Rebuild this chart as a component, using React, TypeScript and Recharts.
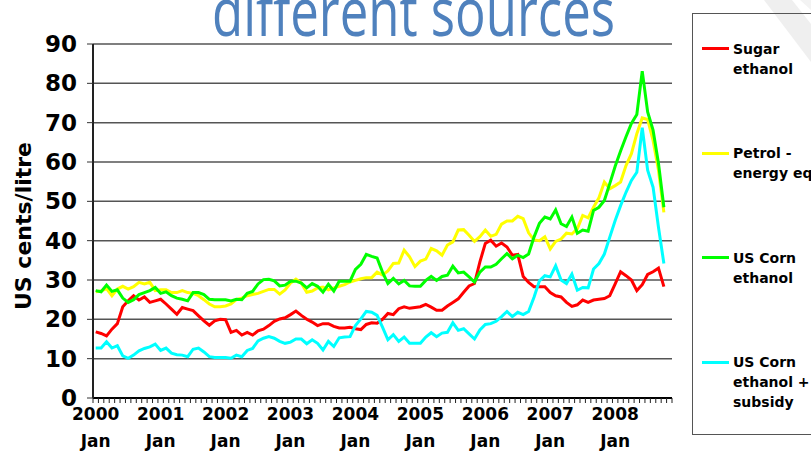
import React from 'react';
import { LineChart, Line, XAxis, YAxis, CartesianGrid, Legend } from 'recharts';

const chartTitle = 'different sources';
const yAxisTitle = 'US cents/litre';
const yearLabels = ['2000', '2001', '2002', '2003', '2004', '2005', '2006', '2007', '2008'];
const monthLabel = 'Jan';
const monthCount = 107; // Jan 2000 .. Nov 2008
const yTicks = [0, 10, 20, 30, 40, 50, 60, 70, 80, 90];

const sugarEthanol = [16.8, 16.4, 15.8, 17.5, 18.9, 23.2, 24.7, 26, 24.9, 25.7, 24.3, 24.7, 25.1, 23.9, 22.6, 21.3, 23, 22.6, 22.2, 20.9, 19.6, 18.5, 19.6, 20, 19.9, 16.7, 17.2, 16, 16.7, 16, 17.1, 17.5, 18.4, 19.5, 20.1, 20.4, 21.2, 22.1, 21, 20, 19.3, 18.4, 18.9, 18.9, 18.2, 17.8, 17.8, 18, 17.6, 17.4, 18.7, 19.1, 19, 20, 21.5, 21.2, 22.7, 23.2, 22.8, 23, 23.2, 23.8, 23.1, 22.3, 22.3, 23.4, 24.3, 25.2, 26.9, 28.5, 29.1, 34.6, 39.3, 40.1, 38.6, 39.4, 38.4, 36.3, 36.5, 30.9, 29.4, 28.3, 28.3, 28.3, 26.8, 26, 25.7, 24.3, 23.3, 23.7, 24.9, 24.3, 24.9, 25.1, 25.3, 26, 29, 32.1, 31.1, 30, 27.3, 28.8, 31.4, 32.1, 33, 28.3];
const petrolEquivalent = [27, 27.2, 27.8, 26, 27.7, 28.4, 27.7, 28.3, 29.4, 29, 29.4, 27.3, 27.5, 27.5, 26.8, 26.8, 27.3, 26.8, 26.6, 26, 25, 23.9, 23.2, 23.2, 23.4, 23.9, 25, 25.4, 26, 26.3, 26.6, 27.1, 27.6, 27.6, 26.4, 27.5, 29.2, 30.2, 29.2, 26.9, 27.2, 28, 28.2, 27.5, 28, 28.4, 28.8, 29.5, 29.9, 30.3, 30.6, 30.6, 32, 31.3, 32.3, 34.2, 34.3, 37.6, 35.9, 33.4, 34.8, 35.3, 38, 37.4, 36.3, 38.9, 39.7, 42.7, 42.8, 41.4, 39.8, 41, 42.7, 41.1, 41.6, 44.2, 45, 45, 46.2, 45.6, 42, 40.2, 40, 41, 37.9, 39.8, 40.4, 41.9, 41.7, 43, 46.4, 45.8, 48.5, 50.9, 54.9, 53.2, 54, 54.9, 59.1, 62.1, 67.2, 71.2, 70.8, 65.5, 57.9, 47.2];
const usCornEthanol = [27.3, 27, 28.7, 27.1, 27.5, 25.4, 24.3, 25, 26.3, 26.8, 27.3, 28.1, 26.6, 27, 26, 25.4, 25.1, 24.7, 26.8, 26.8, 26.3, 25.1, 25, 25, 25, 24.7, 25.1, 25, 26.6, 27.1, 29, 30.1, 30.2, 29.8, 28.5, 28.7, 29.7, 29.7, 29.2, 28, 29.1, 28.4, 26.9, 28.9, 27.2, 29.7, 29.7, 29.7, 32.7, 34, 36.5, 36, 35.6, 32, 29.1, 30.4, 29, 29.9, 28.5, 28.4, 28.4, 29.9, 30.9, 29.9, 30.9, 31.2, 33.5, 31.8, 32, 30.8, 29.5, 32, 33.3, 33.3, 34, 35.4, 36.7, 35.4, 36.3, 35.7, 36.6, 40.9, 44.4, 46, 45.5, 47.8, 44.3, 43.6, 46, 41.9, 42.7, 42.4, 47.7, 48.5, 50.2, 54.5, 58.9, 62.8, 66.4, 69.8, 72.1, 83.1, 72.7, 68.1, 59.7, 48.5];
const usCornSubsidy = [12.7, 12.7, 14.3, 12.7, 13.3, 10.7, 10.1, 10.9, 12, 12.6, 13, 13.7, 12.1, 12.7, 11.4, 11, 10.9, 10.5, 12.4, 12.7, 11.7, 10.5, 10.3, 10.3, 10.3, 10.1, 10.9, 10.5, 12.1, 12.6, 14.5, 15.2, 15.6, 15.2, 14.4, 13.9, 14.2, 15, 15, 13.8, 14.8, 13.9, 12.2, 14.4, 13.1, 15.3, 15.5, 15.6, 18.4, 20.1, 22, 21.8, 21, 18, 14.8, 16.1, 14.4, 15.5, 13.9, 13.9, 13.9, 15.5, 16.6, 15.6, 16.5, 16.7, 19.1, 17.2, 17.6, 16.3, 15, 17.3, 18.7, 18.9, 19.5, 20.7, 22, 20.7, 21.8, 21.2, 22, 25.6, 29.8, 31.1, 30.8, 33.6, 30, 29.1, 31.5, 27.4, 28.1, 28, 32.8, 34.2, 36.6, 40.9, 45.1, 48.9, 52.3, 55.3, 57.4, 68.7, 57.9, 53.6, 43.4, 34.2];

const seriesKeys = ['sugar', 'petrol', 'corn', 'cornSub'];
const seriesNames = [['Sugar', 'ethanol'], ['Petrol -', 'energy eq'], ['US Corn', 'ethanol'], ['US Corn', 'ethanol +', 'subsidy']];
const seriesColors = ['#FF0000', '#FFFF00', '#00FF00', '#00FFFF'];
const seriesValues = [sugarEthanol, petrolEquivalent, usCornEthanol, usCornSubsidy];

const data = Array.from({ length: monthCount }, (_, i) => {
  const row: any = { i };
  seriesKeys.forEach((k, s) => {
    row[k] = seriesValues[s][i] ?? null;
  });
  return row;
});
const xTicks = data.map((d) => d.i);

const FONT = '"DejaVu Sans", Verdana, sans-serif';

const MonthTick = (props: any) => {
  const { x, y, payload, index, visibleTicksCount } = props;
  const w = typeof props.width === 'number' ? props.width : 579;
  const n = visibleTicksCount || monthCount;
  const half = w / n / 2;
  const v = payload.value;
  const els: any[] = [
    <line key="t" x1={x - half} x2={x - half} y1={y} y2={y + 5} stroke="#222" strokeWidth={1} />,
  ];
  if (index === n - 1) {
    els.push(<line key="te" x1={x + half} x2={x + half} y1={y} y2={y + 5} stroke="#222" strokeWidth={1} />);
  }
  if (v % 12 === 0) {
    const lbl = yearLabels[v / 12];
    els.push(
      <text key="y" x={x} y={y + 22} textAnchor="middle" fontFamily={FONT} fontWeight="bold" fontSize={17} fill="#000">
        {lbl}
      </text>,
      <text key="m" x={x} y={y + 49} textAnchor="middle" fontFamily={FONT} fontWeight="bold" fontSize={17} fill="#000">
        {monthLabel}
      </text>
    );
  }
  return <g>{els}</g>;
};

const YTitle = () => (
  <text
    x={31}
    y={226}
    transform="rotate(-90, 31, 226)"
    textAnchor="middle"
    fontFamily={FONT}
    fontWeight="bold"
    fontSize={22}
    fill="#000"
  >
    {yAxisTitle}
  </text>
);

const renderLegend = () => (
  <div
    style={{
      position: 'relative',
      width: 140,
      height: 422,
      border: '1px solid #555',
      boxSizing: 'border-box',
      fontFamily: FONT,
      fontWeight: 'bold',
      fontSize: 14,
      color: '#000',
    }}
  >
    {seriesKeys.map((k, i) => (
      <div key={k} style={{ position: 'absolute', left: 9, top: 24.5 + 104.5 * i }}>
        <div style={{ position: 'absolute', left: 0, top: 8.5, width: 27, height: 3, background: seriesColors[i] }} />
        <div style={{ position: 'absolute', left: 31, top: 0, lineHeight: '20px', whiteSpace: 'nowrap' }}>
          {seriesNames[i].map((l) => (
            <div key={l}>{l}</div>
          ))}
        </div>
      </div>
    ))}
  </div>
);

export default function App() {
  return (
    <div style={{ position: 'absolute', left: 0, top: 0, width: 811, height: 457, overflow: 'hidden', background: '#fff' }}>
      <svg width={811} height={457} style={{ position: 'absolute', left: 0, top: 0 }}>
        <polygon points="764,0 792,0 811,24 811,62" fill="#efefef" />
        <polygon points="800,0 811,0 811,10" fill="#f3f3f3" />
        <text
          x={212}
          y={36}
          textLength={403}
          lengthAdjust="spacingAndGlyphs"
          fontFamily='"Open Sans", sans-serif'
          fontSize={68}
          fill="#4F81BD"
        >
          {chartTitle}
        </text>
      </svg>
      <div style={{ position: 'absolute', left: 0, top: 0 }}>
        <LineChart width={811} height={457} data={data} margin={{ top: 44, right: 139, bottom: 0, left: 0 }}>
          <CartesianGrid horizontal vertical={false} stroke="#555" strokeWidth={1.5} yAxisId="left" />
          <XAxis
            type="number"
            dataKey="i"
            domain={[-0.5, monthCount - 0.5]}
            ticks={xTicks}
            interval={0}
            tick={<MonthTick />}
            tickLine={false}
            tickSize={0}
            tickMargin={0}
            height={59}
            axisLine={{ stroke: '#000', strokeWidth: 2 }}
          />
          <YAxis
            yAxisId="left"
            domain={[0, 90]}
            ticks={yTicks}
            interval={0}
            width={93}
            tickSize={6}
            tickMargin={10}
            tickLine={{ stroke: '#333' }}
            axisLine={{ stroke: '#222', strokeWidth: 2 }}
            tick={{ fontFamily: FONT, fontWeight: 'bold', fontSize: 23, fill: '#000' }}
            label={<YTitle />}
          />
          <YAxis
            yAxisId="right"
            orientation="right"
            domain={[0, 90]}
            width={0}
            tick={false}
            tickLine={false}
            axisLine={{ stroke: '#777', strokeWidth: 2 }}
          />
          <Legend
            content={renderLegend}
            layout="vertical"
            align="right"
            verticalAlign="top"
            wrapperStyle={{ position: 'absolute', left: 692, top: 13, right: 'auto', bottom: 'auto', width: 0, height: 0, margin: 0, padding: 0 }}
          />
          {seriesKeys.map((k, i) => (
            <Line
              key={k}
              yAxisId="left"
              type="linear"
              dataKey={k}
              name={seriesNames[i].join(' ')}
              stroke={seriesColors[i]}
              strokeWidth={3}
              dot={false}
              isAnimationActive={false}
              connectNulls={false}
            />
          ))}
        </LineChart>
      </div>
    </div>
  );
}
